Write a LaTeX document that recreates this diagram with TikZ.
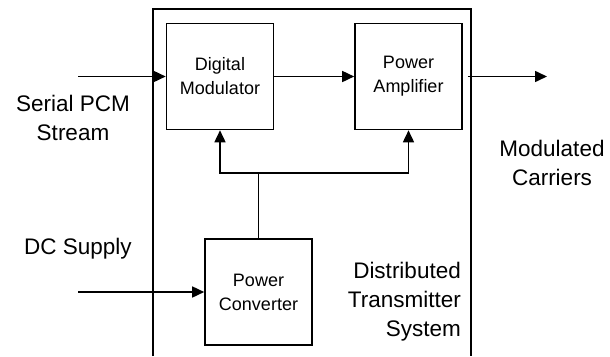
\documentclass[tikz,border=0pt]{standalone}
\usepackage{fontspec}
\setmainfont{Liberation Sans}
\usetikzlibrary{arrows.meta}
\begin{document}
\begin{tikzpicture}[x=1pt,y=-1pt,
  blk/.style={draw,line width=1.6pt,minimum width=107pt,minimum height=106pt,inner sep=0pt,align=center,font=\fontsize{18}{24}\selectfont},
  lbl/.style={align=center,font=\fontsize{22.5}{29}\selectfont,inner sep=0pt},
  wire/.style={line width=1.6pt},
  arr/.style={wire,-{Triangle[length=12pt,width=11pt]}}]
\useasboundingbox (0,0) rectangle (610,356);
\draw[line width=1.8pt] (153,356) -- (153,9) -- (471,9) -- (471,356);
\node[blk] (dm) at (220,76.5) {Digital\\Modulator};
\node[blk] (pa) at (408.5,76.5) {Power\\Amplifier};
\node[blk] (pc) at (258.5,292) {Power\\Converter};
\coordinate (in) at (78,76.5);
\coordinate (out) at (547,76.5);
\coordinate (dc) at (78,292);
\coordinate (j) at (258.5,173);
\draw[arr] (in) -- (dm);
\draw[arr] (dm) -- (pa);
\draw[arr] (pa.east) ++(5,0) -- (out);
\draw[wire] (pc.north) -- (j);
\draw[arr] (j) -| (dm.south);
\draw[arr] (j) -| (pa.south);
\draw[arr] (dc) -- (pc.west);
\node[lbl] (spcm) at (73,118) {Serial PCM\\Stream};
\node[lbl] (dcs) at (78,249) {DC Supply};
\node[lbl] (mc) at (552,163) {Modulated\\Carriers};
\node[lbl,align=right,anchor=east] (dts) at (461,302) {Distributed\\Transmitter\\System};
\end{tikzpicture}
\end{document}
